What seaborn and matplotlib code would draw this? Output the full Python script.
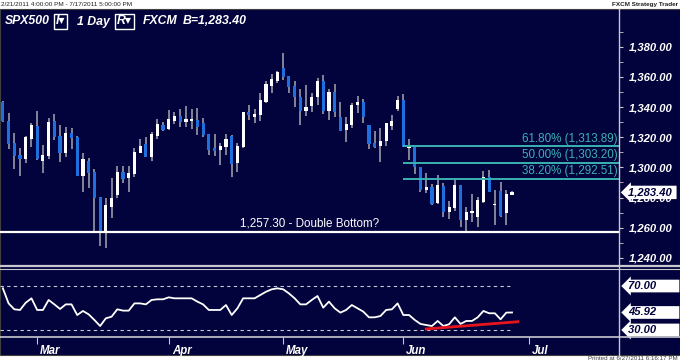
import numpy as np
import matplotlib
matplotlib.use('Agg')
import matplotlib.pyplot as plt
import matplotlib.transforms as mtransforms
from matplotlib.patches import Rectangle
from matplotlib.lines import Line2D
from matplotlib.ticker import FixedLocator, FuncFormatter
import seaborn as sns

# -------------------------------------------
# данные (SPX500, дневные свечи, 21.02 - 27.06.2011)
opens = [1343.5, 1330.9, 1315.9, 1308.2, 1305.8, 1318.6, 1327.4, 1304.4, 1307.7, 1330.9,
         1321.0, 1309.7, 1323.0, 1320.3, 1294.3, 1304.2, 1297.1, 1280.5, 1257.3, 1273.5,
         1281.7, 1297.1, 1292.7, 1295.6, 1309.7, 1315.3, 1307.1, 1320.8, 1328.1, 1325.2,
         1330.7, 1334.1, 1329.9, 1330.9, 1331.4, 1329.2, 1322.1, 1313.0, 1311.5, 1313.3,
         1321.0, 1302.7, 1313.3, 1336.9, 1333.2, 1334.7, 1343.5, 1354.1, 1357.5, 1366.1,
         1360.6, 1354.1, 1346.8, 1337.4, 1340.7, 1346.4, 1357.5, 1337.6, 1350.2, 1333.6,
         1324.8, 1328.1, 1341.3, 1343.5, 1328.1, 1315.9, 1314.2, 1317.7, 1327.6, 1338.5,
         1344.7, 1312.6, 1313.3, 1300.0, 1284.9, 1286.8, 1276.2, 1287.6, 1270.6, 1272.8,
         1288.3, 1265.1, 1269.9, 1266.9, 1277.2, 1293.4, 1275.0, 1284.3, 1269.5, 1282.0]
highs = [1344.2, 1335.8, 1322.6, 1312.6, 1320.8, 1329.6, 1337.4, 1314.6, 1332.5, 1335.4,
         1328.1, 1326.6, 1326.3, 1320.5, 1309.7, 1306.4, 1298.7, 1280.5, 1279.5, 1292.7,
         1300.9, 1300.9, 1300.9, 1312.6, 1319.0, 1320.3, 1323.4, 1332.3, 1330.3, 1338.0,
         1336.9, 1338.7, 1340.7, 1338.7, 1339.1, 1332.5, 1322.1, 1322.1, 1316.3, 1321.9,
         1321.5, 1315.9, 1336.9, 1341.3, 1338.5, 1349.1, 1357.5, 1361.9, 1363.9, 1375.6,
         1360.6, 1357.5, 1351.8, 1354.6, 1349.5, 1359.0, 1361.2, 1351.8, 1355.3, 1343.5,
         1333.2, 1342.5, 1347.3, 1345.1, 1328.1, 1324.3, 1325.9, 1329.6, 1334.7, 1347.3,
         1348.6, 1318.6, 1313.3, 1300.0, 1296.0, 1288.9, 1294.9, 1289.4, 1277.9, 1293.1,
         1288.3, 1273.9, 1282.3, 1280.1, 1297.8, 1298.2, 1285.0, 1290.5, 1285.0, 1284.3]
lows = [1330.1, 1312.0, 1298.7, 1294.3, 1302.7, 1313.7, 1305.0, 1296.5, 1305.3, 1318.1,
        1303.3, 1306.7, 1312.2, 1294.0, 1283.8, 1286.1, 1256.3, 1247.8, 1246.3, 1266.2,
        1279.5, 1289.8, 1283.8, 1293.8, 1309.3, 1306.7, 1304.4, 1318.6, 1324.3, 1324.8,
        1328.7, 1326.6, 1327.0, 1325.2, 1321.5, 1320.0, 1308.2, 1307.5, 1301.6, 1308.2,
        1293.4, 1297.1, 1313.0, 1331.4, 1329.6, 1330.9, 1342.9, 1349.5, 1355.7, 1357.9,
        1349.1, 1340.2, 1328.1, 1334.1, 1336.9, 1341.3, 1335.4, 1331.4, 1333.2, 1324.3,
        1317.0, 1325.9, 1336.2, 1329.6, 1312.0, 1312.6, 1303.7, 1314.4, 1324.8, 1337.6,
        1313.7, 1304.9, 1295.6, 1283.8, 1283.2, 1275.0, 1275.7, 1267.3, 1265.5, 1271.3,
        1260.6, 1257.3, 1263.9, 1260.6, 1276.5, 1283.8, 1262.0, 1267.3, 1261.8, 1281.7]
closes = [1330.7, 1315.5, 1307.7, 1305.8, 1320.3, 1328.1, 1305.4, 1308.2, 1330.3, 1320.3,
          1309.3, 1322.6, 1319.7, 1294.3, 1305.6, 1296.0, 1279.9, 1257.3, 1275.0, 1279.5,
          1297.1, 1292.3, 1296.5, 1310.4, 1314.2, 1306.7, 1322.1, 1328.5, 1324.8, 1331.9,
          1334.1, 1330.3, 1331.9, 1332.3, 1326.9, 1321.5, 1311.5, 1310.8, 1314.2, 1319.0,
          1302.2, 1314.2, 1336.5, 1334.7, 1335.4, 1344.7, 1355.3, 1358.6, 1363.0, 1359.7,
          1353.1, 1346.4, 1337.4, 1340.2, 1346.8, 1357.5, 1337.6, 1350.2, 1336.9, 1324.3,
          1328.7, 1341.3, 1343.5, 1333.6, 1315.5, 1313.3, 1317.7, 1329.2, 1330.9, 1344.7,
          1313.7, 1314.2, 1300.0, 1284.9, 1287.2, 1275.7, 1288.1, 1270.6, 1273.9, 1288.3,
          1265.1, 1270.6, 1271.1, 1278.4, 1293.8, 1283.8, 1276.0, 1267.7, 1282.3, 1283.4]

# RSI
rsi = [67.9, 54.2, 48.8, 48.2, 54.8, 58.8, 48.2, 48.2, 57.3, 53.3,
       49.1, 53.3, 53.3, 43.6, 47.3, 44.2, 39.1, 33.6, 40.6, 42.1,
       48.8, 47.6, 47.6, 54.2, 54.2, 53.3, 57.3, 57.9, 57.9, 59.7,
       58.8, 58.8, 58.8, 58.8, 55.8, 53.3, 48.2, 48.2, 48.2, 52.7,
       43.6, 49.7, 58.8, 58.8, 58.8, 61.8, 64.8, 67.0, 67.9, 67.0,
       63.3, 58.8, 53.3, 53.3, 57.3, 60.9, 50.3, 55.8, 49.7, 45.8,
       48.2, 52.7, 49.7, 46.7, 41.5, 41.5, 42.7, 48.2, 48.8, 54.2,
       43.6, 43.6, 39.1, 35.5, 34.5, 33.6, 38.2, 33.6, 35.2, 41.5,
       35.5, 38.2, 38.2, 41.5, 47.3, 45.2, 45.2, 39.7, 45.8, 45.92]
rsi_levels = [70.0, 30.0]
trend_x = [74, 90]
trend_y = [30.9, 37.5]

# уровни Фибоначчи и двойное дно
fib_levels = [1313.89, 1303.20, 1292.51]
fib_labels = ['61.80% (1,313.89)', '50.00% (1,303.20)', '38.20% (1,292.51)']
fib_start = 70
double_bottom = 1257.30
db_label = '1,257.30 - Double Bottom?'
last_price = 1283.40

# месяцы (номер первой свечи месяца)
months = ['Mar', 'Apr', 'May', 'Jun', 'Jul']
month_idx = [6, 29, 49, 70, 92]
price_ticks = [1240, 1260, 1280, 1300, 1320, 1340, 1360, 1380]

# -------------------------------------------
# оформление
NAVY = '#02023c'
BLUE = '#1f70dc'
WICK = '#9a9aa8'
TEAL = '#3ab2b2'
LINE = '#c8c8d0'

plt.rcParams['font.family'] = ['Liberation Sans', 'DejaVu Sans']

W, H = 680, 363
fig = plt.figure(figsize=(W / 100, H / 100), dpi=100)
fig.patch.set_facecolor('white')


def fx(x):
    return x / W


def fy(y):
    return 1 - y / H


# фон панели
fig.add_artist(Rectangle((0, fy(355)), 1, (355 - 9) / H, transform=fig.transFigure,
                         fc=NAVY, ec='#404040', lw=0.8, zorder=0))

ax_p = fig.add_axes([0, fy(266), 619 / W, (266 - 9) / H])
ax_r = fig.add_axes([0, fy(337), 619 / W, (337 - 268) / H])
for ax in (ax_p, ax_r):
    ax.set_facecolor('none')
    for s in ax.spines.values():
        s.set_visible(False)
    ax.set_xlim(-0.5, 107.7)

# -------------------------------------------
# свечи
x = np.arange(len(closes))
o = np.array(opens)
c = np.array(closes)
colors = np.where(c >= o, 'white', BLUE)
ax_p.vlines(x, lows, highs, color=WICK, lw=1.2, zorder=2)
body = np.maximum(np.abs(c - o), 0.7)
ax_p.bar(x, body, bottom=np.minimum(o, c), width=0.55, color=colors, lw=0, zorder=3)

ax_p.set_ylim(1234.6, 1405.0)
ax_p.set_xticks([])
ax_p.yaxis.tick_right()
ax_p.yaxis.set_major_locator(FixedLocator(price_ticks))
ax_p.yaxis.set_minor_locator(FixedLocator([v + 10 for v in price_ticks]))
ax_p.yaxis.set_major_formatter(FuncFormatter(lambda v, p: f'{v:,.2f}'))
ax_p.tick_params(axis='y', which='both', direction='out', length=3, color=LINE,
                 labelcolor='white', labelsize=8.1, pad=4)
for lab in ax_p.get_yticklabels():
    lab.set_fontweight('bold')
    lab.set_fontstyle('italic')

# двойное дно
ax_p.axhline(double_bottom, color='white', lw=1.6, zorder=4)
ax_p.text(41.4, double_bottom + 1.2, db_label, color='white', fontsize=8.4,
          ha='left', va='bottom', zorder=5)

# Фибоначчи
for lvl, lab in zip(fib_levels, fib_labels):
    ax_p.hlines(lvl, fib_start, 107.7, color=TEAL, lw=1.4, zorder=4)
    ax_p.text(107.4, lvl + 1.0, lab, color=TEAL, fontsize=8.4, ha='right',
              va='bottom', zorder=5)

# флажок текущей цены
blend_p = mtransforms.blended_transform_factory(ax_p.transAxes, ax_p.transData)
ax_p.text(1 + 9 / 619, last_price, f'{last_price:,.2f} ', transform=blend_p,
          color=NAVY, fontsize=8.1, fontweight='bold', fontstyle='italic',
          ha='left', va='center', zorder=10,
          bbox=dict(boxstyle='larrow,pad=0.15', fc='white', ec='none'))

# -------------------------------------------
# RSI
sns.lineplot(x=x, y=rsi, ax=ax_r, color='white', lw=1.3, zorder=3)
ax_r.hlines(rsi_levels, -0.5, 88.6, colors=LINE, lw=0.8,
            linestyles=(0, (3, 3)), zorder=2)
ax_r.plot(trend_x, trend_y, color='#e8141c', lw=2.0, zorder=4)
ax_r.set_ylim(23.6, 86.4)
ax_r.set_yticks([])
ax_r.set_ylabel('')

blend_r = mtransforms.blended_transform_factory(ax_r.transAxes, ax_r.transData)
for val in [70.0, rsi[-1], 30.0]:
    ax_r.text(1 + 9 / 619, val, f'{val:.2f}       ', transform=blend_r,
              color=NAVY, fontsize=8.1, fontweight='bold', fontstyle='italic',
              ha='left', va='center', zorder=10,
              bbox=dict(boxstyle='larrow,pad=0.12', fc='white', ec='none'))

# ось дат
ax_r.set_xticks(month_idx)
ax_r.set_xticklabels(months, ha='left', color='white', fontsize=8.3,
                     fontweight='bold', fontstyle='italic')
ax_r.tick_params(axis='x', direction='out', length=5, color=LINE, pad=1)
shift = mtransforms.ScaledTranslation(3 / 100, 0, fig.dpi_scale_trans)
for lab in ax_r.get_xticklabels():
    lab.set_transform(lab.get_transform() + shift)
ax_r.set_xlabel('')

# линии-разделители
for yy, lw in [(266, 1.6), (268.5, 0.8), (337, 1.2)]:
    fig.add_artist(Line2D([0, 1], [fy(yy), fy(yy)], transform=fig.transFigure,
                          color=LINE, lw=lw, zorder=6))
fig.add_artist(Line2D([fx(619), fx(619)], [fy(9), fy(355)], transform=fig.transFigure,
                      color=LINE, lw=1.0, zorder=6))

# -------------------------------------------
# заголовок
hkw = dict(color='white', fontsize=8.8, fontweight='bold', fontstyle='italic',
           va='center', ha='left')
fig.text(fx(5), fy(21.5), 'SPX500', **hkw)
fig.text(fx(56), fy(21.5), 'I\u25be', bbox=dict(boxstyle='square,pad=0.15', fc='none',
                                                  ec='white', lw=1), **hkw)
fig.text(fx(77), fy(21.5), '1 Day', **hkw)
fig.text(fx(117), fy(21.5), 'R\u25be', bbox=dict(boxstyle='square,pad=0.15', fc='none',
                                                   ec='white', lw=1), **hkw)
fig.text(fx(143), fy(21.5), 'FXCM', **hkw)
fig.text(fx(183), fy(21.5), 'B=1,283.40', **hkw)

# служебные надписи
fig.text(fx(1), fy(4.5), '2/21/2011 4:00:00 PM - 7/17/2011 5:00:00 PM',
         fontsize=4.6, color='#202020', va='center', ha='left')
fig.text(fx(678), fy(4.5), 'FXCM Strategy Trader', fontsize=4.6, fontweight='bold',
         color='#202020', va='center', ha='right')
fig.text(fx(678), fy(359), 'Printed at 6/27/2011 6:16:17 PM', fontsize=4.5,
         color='#404040', va='center', ha='right')

fig.savefig('out.png', dpi=100, facecolor=fig.get_facecolor())
